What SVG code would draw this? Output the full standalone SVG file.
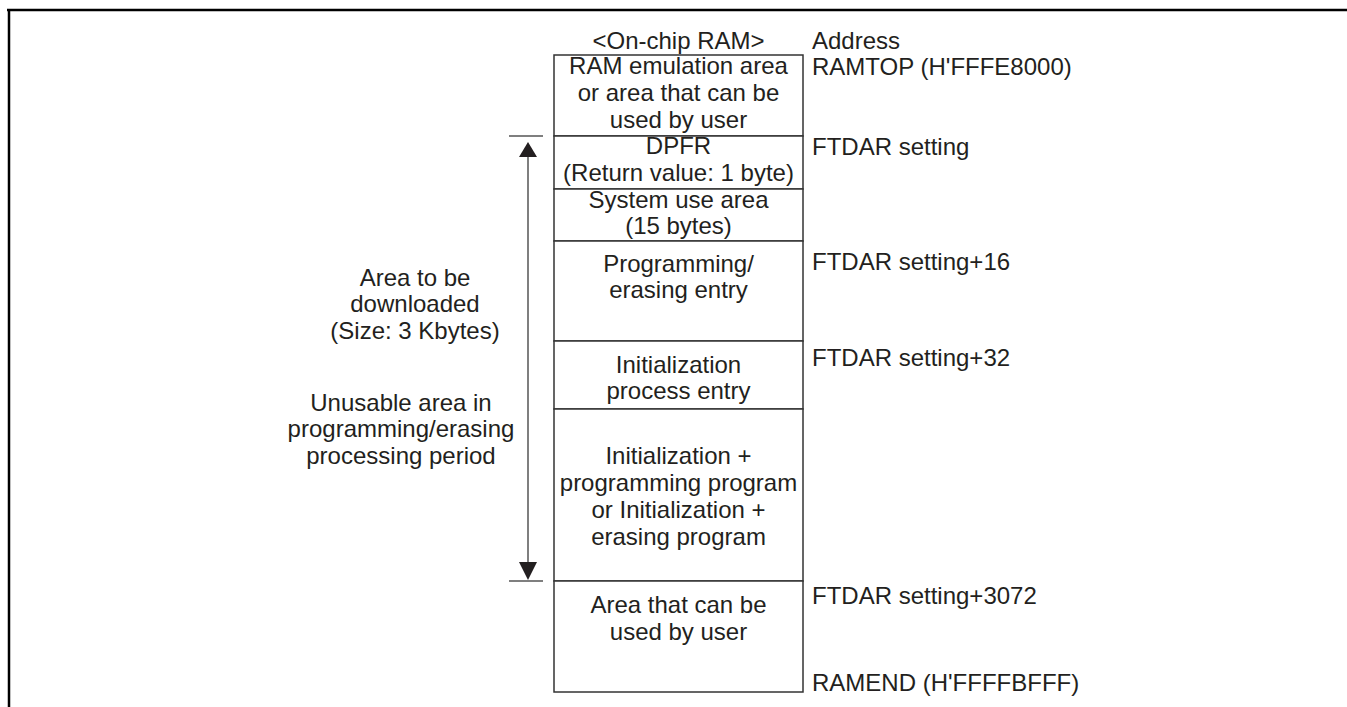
<svg xmlns="http://www.w3.org/2000/svg" width="1347" height="707" viewBox="0 0 1347 707">
<style>
text{font-family:"Liberation Sans",Arial,sans-serif;font-size:24px;fill:#231f20}
.c{text-anchor:middle}
.box{fill:#fff;stroke:#333;stroke-width:1.5}
.tick{stroke:#555;stroke-width:1.5;fill:none}
.ah{fill:#231f20}
</style>
<rect width="1347" height="707" fill="#fff"/>
<g id="frame"><path d="M7,10H1347M9,9V707" stroke="#000" stroke-width="2.5" fill="none"/></g>
<text x="678.5" y="49" class="c">&lt;On-chip RAM&gt;</text>
<text x="812" y="49">Address</text>
<g id="n1"><rect class="box" x="554" y="55" width="249" height="81"/>
<text x="678.5" y="74" class="c">RAM emulation area</text><text x="678.5" y="101" class="c">or area that can be</text><text x="678.5" y="128" class="c">used by user</text></g>
<g id="n2"><rect class="box" x="554" y="136" width="249" height="53"/>
<text x="678.5" y="154" class="c">DPFR</text><text x="678.5" y="181" class="c">(Return value: 1 byte)</text></g>
<g id="n3"><rect class="box" x="554" y="189" width="249" height="52"/>
<text x="678.5" y="208" class="c">System use area</text><text x="678.5" y="234" class="c">(15 bytes)</text></g>
<g id="n4"><rect class="box" x="554" y="241" width="249" height="100"/>
<text x="678.5" y="272" class="c">Programming/</text><text x="678.5" y="298" class="c">erasing entry</text></g>
<g id="n5"><rect class="box" x="554" y="341" width="249" height="68"/>
<text x="678.5" y="373" class="c">Initialization</text><text x="678.5" y="399" class="c">process entry</text></g>
<g id="n6"><rect class="box" x="554" y="409" width="249" height="172"/>
<text x="678.5" y="464" class="c">Initialization +</text><text x="678.5" y="491" class="c">programming program</text><text x="678.5" y="518" class="c">or Initialization +</text><text x="678.5" y="545" class="c">erasing program</text></g>
<g id="n7"><rect class="box" x="554" y="581" width="249" height="111"/>
<text x="678.5" y="613" class="c">Area that can be</text><text x="678.5" y="640" class="c">used by user</text></g>
<g id="addresses">
<text x="812" y="75">RAMTOP (H'FFFE8000)</text>
<text x="812" y="155">FTDAR setting</text>
<text x="812" y="270">FTDAR setting+16</text>
<text x="812" y="366">FTDAR setting+32</text>
<text x="812" y="604">FTDAR setting+3072</text>
<text x="812" y="691">RAMEND (H'FFFFBFFF)</text>
</g>
<g id="connectors">
<path class="tick" d="M509,136H543M509,581H543M528,152V566"/>
<polygon class="ah" points="528,142 519,157 537,157"/>
<polygon class="ah" points="528,580 519,562 537,562"/>
</g>
<g id="labels">
<text x="415" y="286" class="c">Area to be</text><text x="415" y="312" class="c">downloaded</text><text x="415" y="339" class="c">(Size: 3 Kbytes)</text>
<text x="401" y="411" class="c">Unusable area in</text><text x="401" y="437" class="c">programming/erasing</text><text x="401" y="464" class="c">processing period</text>
</g>
</svg>
